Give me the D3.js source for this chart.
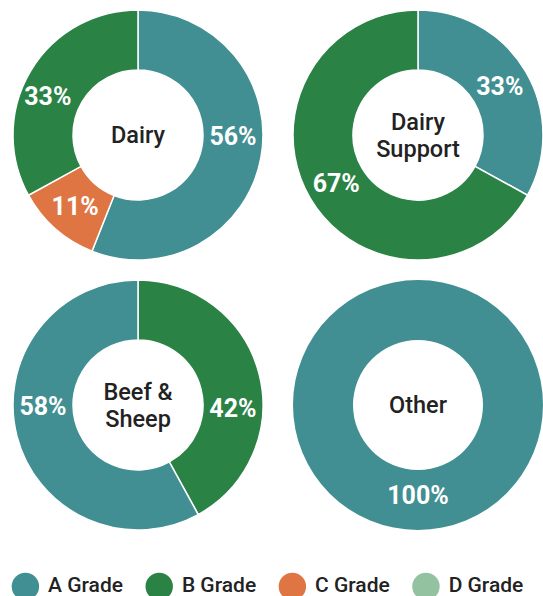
<!DOCTYPE html>
<html><head><meta charset="utf-8">
<script src="https://cdn.jsdelivr.net/npm/d3@7"></script>
<style>
html,body{margin:0;padding:0;background:#fff;}
svg{display:block;font-family:Roboto,"Noto Sans",sans-serif;}
</style></head>
<body>
<svg id="chart" width="543" height="596"></svg>
<script>
// ---- data ----
const categories = ["Dairy", "Dairy Support", "Beef & Sheep", "Other"];
const grades = ["A Grade", "B Grade", "C Grade", "D Grade"];
// values in grade order A, B, C, D
const dairy = [56, 33, 11, 0];
const dairySupport = [33, 67, 0, 0];
const beefSheep = [58, 42, 0, 0];
const other = [100, 0, 0, 0];
const seriesValues = [dairy, dairySupport, beefSheep, other];
// clockwise drawing order of grade indices, from 12 o'clock
const sliceOrder = [[0, 2, 1], [0, 1], [1, 0], [0]];
const centerLabels = [["Dairy"], ["Dairy", "Support"], ["Beef &", "Sheep"], ["Other"]];

// ---- style / layout ----
const colors = ["#418f92", "#2a8245", "#de7542", "#93c2a0"];
const W = 543, H = 596;
const outerR = 125, innerR = 65, labelR = 95;
const centers = [[138, 135], [418, 135], [138, 405], [418, 405]];
// label placement overrides keyed chart-grade (angle in degrees clockwise from top, radius)
const labelAngleOverride = {"0-0": 91, "0-1": 293, "2-1": 92, "2-0": 269};
const labelRadiusOverride = {"3-0": 90.5, "0-1": 98};

const svg = d3.select("#chart");
const pie = d3.pie().sort(null).value(d => d.value);
const arc = d3.arc().innerRadius(innerR).outerRadius(outerR);

categories.forEach((cat, ci) => {
  const data = sliceOrder[ci].map(gi => ({grade: gi, value: seriesValues[ci][gi]}));
  const arcs = pie(data);
  const g = svg.append("g").attr("transform", `translate(${centers[ci][0]},${centers[ci][1]})`);
  g.selectAll("path").data(arcs).join("path")
    .attr("d", arc)
    .attr("fill", d => colors[d.data.grade])
    .attr("stroke", "#fff")
    .attr("stroke-width", arcs.length > 1 ? 1.5 : 0);
  g.selectAll("text.pct").data(arcs).join("text")
    .attr("class", "pct")
    .attr("transform", d => {
      const key = ci + "-" + d.data.grade;
      let a = (d.startAngle + d.endAngle) / 2;
      if (labelAngleOverride[key] !== undefined) a = labelAngleOverride[key] * Math.PI / 180;
      const r = labelRadiusOverride[key] !== undefined ? labelRadiusOverride[key] : labelR;
      return `translate(${r * Math.sin(a)},${-r * Math.cos(a)})`;
    })
    .attr("text-anchor", "middle")
    .attr("dy", "0.34em")
    .attr("fill", "#fff")
    .attr("font-size", 25)
    .attr("font-weight", 700)
    .text(d => d.data.value + "%");
  const lines = centerLabels[ci];
  const lh = 27.5;
  g.selectAll("text.ctr").data(lines).join("text")
    .attr("class", "ctr")
    .attr("text-anchor", "middle")
    .attr("y", (d, i) => (i - (lines.length - 1) / 2) * lh)
    .attr("dy", "0.36em")
    .attr("fill", "#222")
    .attr("font-size", 23.5)
    .attr("font-weight", 500)
    .text(d => d);
});

// ---- legend ----
const legend = svg.append("g");
const cr = 13.7, gapText = 9, gapItem = 22.5, lcy = 586.5, lbase = 592;
let x = 0;
grades.forEach((gname, gi) => {
  const item = legend.append("g").attr("transform", `translate(${x},0)`);
  item.append("circle").attr("cx", cr).attr("cy", lcy).attr("r", cr).attr("fill", colors[gi]);
  const t = item.append("text").attr("x", 2 * cr + gapText).attr("y", lbase)
    .attr("font-size", 21).attr("font-weight", 500).attr("fill", "#222").text(gname);
  x += 2 * cr + gapText + t.node().getComputedTextLength() + gapItem;
});
legend.attr("transform", `translate(11.7,0)`);
</script>
</body></html>
